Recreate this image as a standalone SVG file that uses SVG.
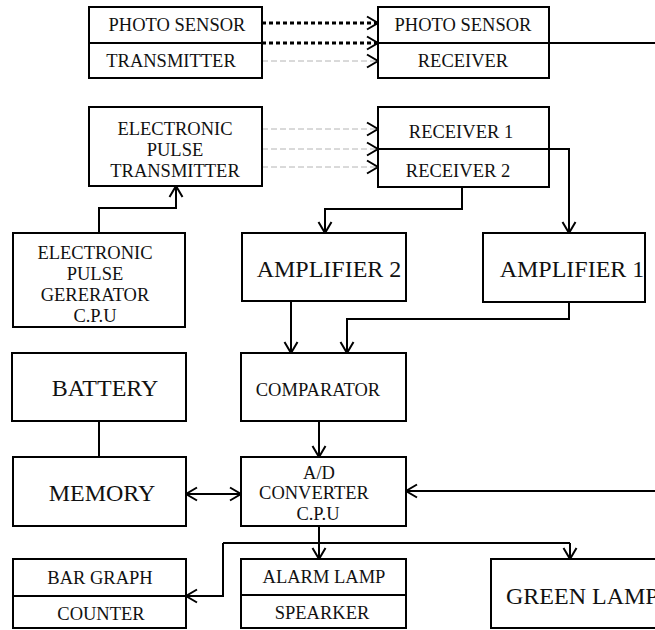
<svg xmlns="http://www.w3.org/2000/svg" width="655" height="630" viewBox="0 0 655 630">
<style>
.box{fill:#fff;stroke:#000;stroke-width:2}
.div{stroke:#000;stroke-width:2}
.t{font-family:"Liberation Serif","Times New Roman",serif;font-size:18.5px;fill:#111;text-anchor:middle;dominant-baseline:central}
.big{font-size:24px}
.c{fill:none;stroke:#000;stroke-width:2}
.a{marker-end:url(#ah)}
.dot{fill:none;stroke:#000;stroke-width:3;stroke-dasharray:4 3}
.gd{fill:none;stroke:#b4b4b4;stroke-width:1;stroke-dasharray:6 3}
</style>
<defs>
<marker id="ah" viewBox="0 0 14 16" refX="12" refY="8" markerWidth="14" markerHeight="16" markerUnits="userSpaceOnUse" orient="auto-start-reverse">
<path d="M1,1.5 L12,8 L1,14.5" fill="none" stroke="#000" stroke-width="2"/>
</marker>
</defs>
<rect width="655" height="630" fill="#fff"/>
<g id="connectors">
<line class="dot a" x1="262" y1="23" x2="378" y2="23"/>
<line class="dot a" x1="262" y1="43" x2="378" y2="43"/>
<line class="gd a" x1="262" y1="61" x2="378" y2="61"/>
<polyline class="c a" points="549,43 680,43 680,491 406,491"/>
<line class="gd a" x1="262" y1="129" x2="378" y2="129"/>
<line class="gd a" x1="262" y1="149" x2="378" y2="149"/>
<line class="gd a" x1="262" y1="167" x2="378" y2="167"/>
<polyline class="c a" points="99,233 99,208 176,208 176,186"/>
<polyline class="c a" points="549,149 569,149 569,233"/>
<polyline class="c a" points="462,187 462,209 325,209 325,233"/>
<line class="c a" x1="291" y1="301" x2="291" y2="353"/>
<polyline class="c a" points="569,302 569,319 347,319 347,353"/>
<line class="c a" x1="319" y1="421" x2="319" y2="457"/>
<line class="c" x1="99" y1="421" x2="99" y2="457"/>
<line class="c" x1="186" y1="494" x2="241" y2="494" marker-start="url(#ah)" marker-end="url(#ah)"/>
<line class="c a" x1="319" y1="526" x2="319" y2="559"/>
<line class="c" x1="223" y1="543" x2="570" y2="543"/>
<line class="c a" x1="570" y1="543" x2="570" y2="559"/>
<polyline class="c a" points="223,543 223,596 186,596"/>
</g>
<g id="ps_tx">
<rect class="box" x="89" y="7" width="173" height="71"/>
<line class="div" x1="89" y1="43" x2="262" y2="43"/>
<text class="t" x="177" y="25">PHOTO SENSOR</text>
<text class="t" x="171" y="61">TRANSMITTER</text>
</g>
<g id="ps_rx">
<rect class="box" x="378" y="7" width="171" height="71"/>
<line class="div" x1="378" y1="43" x2="549" y2="43"/>
<text class="t" x="463" y="25">PHOTO SENSOR</text>
<text class="t" x="463" y="61">RECEIVER</text>
</g>
<g id="ept">
<rect class="box" x="89" y="107" width="173" height="79"/>
<text class="t" x="175" y="129">ELECTRONIC</text>
<text class="t" x="175" y="150">PULSE</text>
<text class="t" x="175" y="171">TRANSMITTER</text>
</g>
<g id="receiver">
<rect class="box" x="378" y="107" width="171" height="80"/>
<line class="div" x1="378" y1="149" x2="549" y2="149"/>
<text class="t" x="461" y="132">RECEIVER 1</text>
<text class="t" x="458" y="171">RECEIVER 2</text>
</g>
<g id="epg">
<rect class="box" x="13" y="233" width="172" height="94"/>
<text class="t" x="95" y="253">ELECTRONIC</text>
<text class="t" x="95" y="274">PULSE</text>
<text class="t" x="95" y="295">GERERATOR</text>
<text class="t" x="95" y="316">C.P.U</text>
</g>
<g id="amp2">
<rect class="box" x="242" y="233" width="164" height="68"/>
<text class="t big" x="329" y="269">AMPLIFIER 2</text>
</g>
<g id="amp1">
<rect class="box" x="483" y="233" width="162" height="69"/>
<text class="t big" x="572" y="269">AMPLIFIER 1</text>
</g>
<g id="battery">
<rect class="box" x="12" y="353" width="174" height="68"/>
<text class="t big" x="105" y="388">BATTERY</text>
</g>
<g id="comparator">
<rect class="box" x="241" y="353" width="165" height="68"/>
<text class="t" x="318" y="390">COMPARATOR</text>
</g>
<g id="memory">
<rect class="box" x="13" y="457" width="173" height="69"/>
<text class="t big" x="102" y="493">MEMORY</text>
</g>
<g id="adc">
<rect class="box" x="241" y="457" width="165" height="69"/>
<text class="t" x="319" y="473">A/D</text>
<text class="t" x="314" y="493">CONVERTER</text>
<text class="t" x="318" y="514">C.P.U</text>
</g>
<g id="bar">
<rect class="box" x="13" y="559" width="173" height="69"/>
<line class="div" x1="13" y1="596" x2="186" y2="596"/>
<text class="t" x="100" y="578">BAR GRAPH</text>
<text class="t" x="101" y="614">COUNTER</text>
</g>
<g id="alarm">
<rect class="box" x="241" y="559" width="165" height="69"/>
<line class="div" x1="241" y1="595" x2="406" y2="595"/>
<text class="t" x="324" y="577">ALARM LAMP</text>
<text class="t" x="322" y="613">SPEARKER</text>
</g>
<g id="green">
<rect class="box" x="491" y="559" width="190" height="69"/>
<text class="t big" x="506" y="596" style="text-anchor:start">GREEN LAMP</text>
</g>
</svg>
